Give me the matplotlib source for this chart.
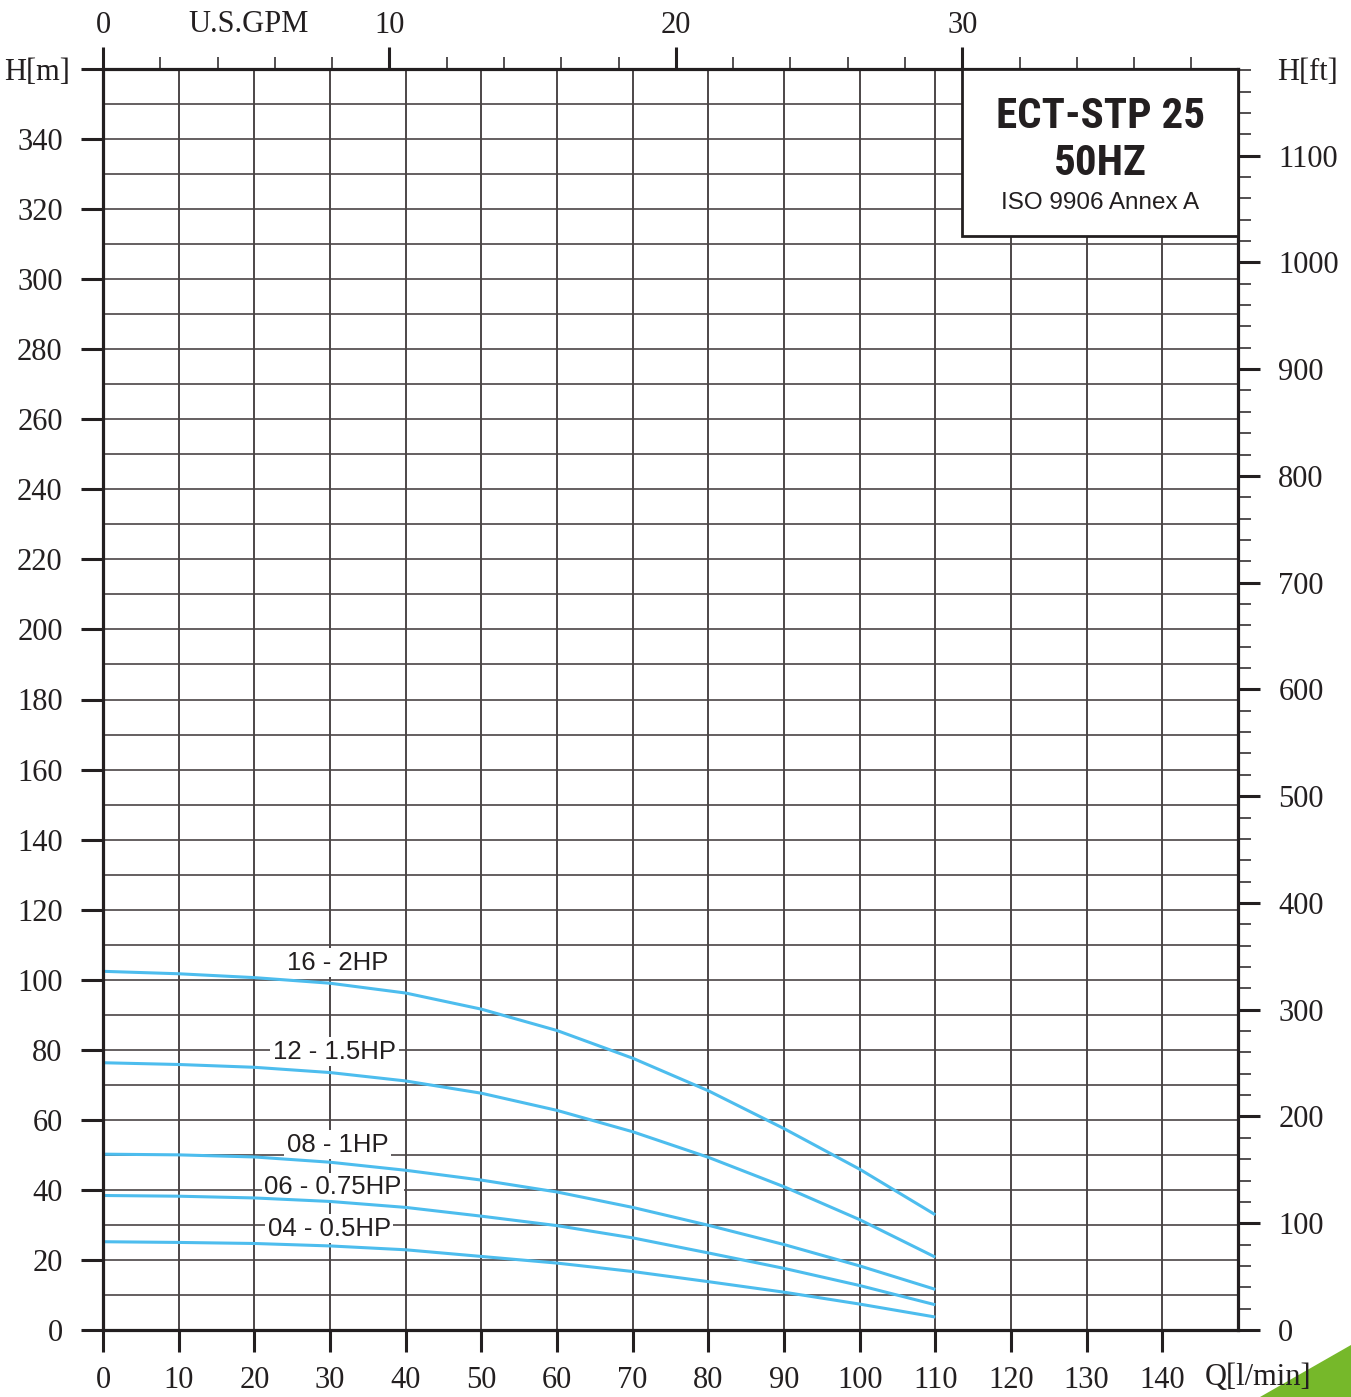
import matplotlib
matplotlib.use("Agg")
import matplotlib.pyplot as plt
from matplotlib.patches import Rectangle, Polygon
import numpy as np

# ---- data ----
flow_lpm = [0, 10, 20, 30, 40, 50, 60, 70, 80, 90, 100, 110]
head_16_2hp = [102.4, 101.7, 100.6, 99.0, 96.2, 91.6, 85.5, 77.6, 68.3, 57.5, 45.9, 32.9]
head_12_15hp = [76.3, 75.8, 75.0, 73.5, 71.1, 67.6, 62.7, 56.6, 49.3, 40.9, 31.5, 20.8]
head_08_1hp = [50.2, 50.0, 49.4, 47.9, 45.6, 42.8, 39.4, 35.0, 29.9, 24.4, 18.3, 11.6]
head_06_075hp = [38.4, 38.2, 37.7, 36.7, 35.0, 32.5, 29.8, 26.3, 22.0, 17.6, 12.7, 7.2]
head_04_05hp = [25.2, 25.0, 24.7, 24.0, 22.9, 21.0, 19.1, 16.7, 13.8, 10.8, 7.4, 3.7]
curve_labels = ["16 - 2HP", "12 - 1.5HP", "08 - 1HP", "06 - 0.75HP", "04 - 0.5HP"]

bottom_ticks = list(range(0, 150, 10))
left_ticks = list(range(0, 361, 20))
right_ticks = list(range(0, 1101, 100))
top_ticks = [0, 10, 20, 30]

title_lines = ["ECT-STP 25", "50HZ"]
subtitle = "ISO 9906 Annex A"

M_TO_FT = 3.28084
GPM_TO_LPM = 3.78541
XMAX, YMAX = 150, 360

W, H = 1351, 1397
fig = plt.figure(figsize=(W / 100, H / 100), dpi=100)
fig.patch.set_facecolor("white")

L, R, B, T = 103, 1238, 1330, 69
ax = fig.add_axes([L / W, (H - B) / H, (R - L) / W, (B - T) / H])
ax.set_xlim(0, XMAX)
ax.set_ylim(0, YMAX)

serif = ["Liberation Serif", "DejaVu Serif"]
sans = ["Liberation Sans", "DejaVu Sans"]
cond = ["Roboto Condensed", "Archivo Narrow", "Asap Condensed", "Liberation Sans", "DejaVu Sans"]
tick_fs = 22
ink = "#231f20"
curve_color = "#4dbdee"

# grid
for xv in range(10, XMAX, 10):
    ax.axvline(xv, color="#2e2829", lw=1.2, zorder=1)
for yv in range(10, YMAX, 10):
    ax.axhline(yv, color="#4a4445", lw=1.2, zorder=1)

# spines
for side in ["left", "right", "top", "bottom"]:
    ax.spines[side].set_linewidth(2.3)
    ax.spines[side].set_color(ink)
    ax.spines[side].set_zorder(6)

# bottom / left ticks
ax.set_xticks(bottom_ticks)
ax.set_xticklabels([str(t) for t in bottom_ticks], fontfamily=serif, fontsize=tick_fs, color=ink)
ax.set_yticks(left_ticks)
ax.set_yticklabels([str(t) if t < 360 else "" for t in left_ticks], fontfamily=serif,
                   fontsize=tick_fs, color=ink)
ax.tick_params(axis="x", direction="out", length=16, width=2.2, pad=10, colors=ink)
ax.tick_params(axis="y", direction="out", length=16, width=2.2, pad=13, colors=ink)
ax.tick_params(top=False, right=False)

# right axis (ft)
axr = ax.twinx()
axr.set_ylim(0, YMAX * M_TO_FT)
axr.set_yticks(right_ticks)
axr.set_yticklabels([str(t) for t in right_ticks], fontfamily=serif, fontsize=tick_fs, color=ink)
axr.set_yticks(np.arange(0, YMAX * M_TO_FT, 20), minor=True)
axr.tick_params(axis="y", which="major", direction="out", length=16, width=2.2, pad=13, colors=ink)
axr.tick_params(axis="y", which="minor", direction="out", length=9, width=1.1, colors=ink)
for s in axr.spines.values():
    s.set_visible(False)

# top axis (GPM)
axt = ax.twiny()
axt.set_xlim(0, XMAX / GPM_TO_LPM)
axt.set_xticks(top_ticks)
axt.set_xticklabels([str(t) for t in top_ticks], fontfamily=serif, fontsize=tick_fs, color=ink)
axt.set_xticks(np.arange(0, XMAX / GPM_TO_LPM, 2), minor=True)
axt.tick_params(axis="x", which="major", direction="out", length=16, width=2.2, pad=5, colors=ink)
axt.tick_params(axis="x", which="minor", direction="out", length=9, width=1.1, colors=ink)
for s in axt.spines.values():
    s.set_visible(False)

# curves
series = [head_16_2hp, head_12_15hp, head_08_1hp, head_06_075hp, head_04_05hp]
for h in series:
    ax.plot(flow_lpm, h, color=curve_color, lw=2.2, zorder=4, solid_capstyle="butt")

# curve labels (white background boxes, under the curves, above the grid)
label_pos = [(31.0, 104.9), (30.6, 79.5), (31.0, 52.9), (30.4, 40.7), (29.9, 28.9)]
for text, (lx, ly) in zip(curve_labels, label_pos):
    ax.text(lx, ly, text, fontfamily=sans, fontsize=18.5, color=ink, ha="center", va="center",
            zorder=3, bbox=dict(boxstyle="square,pad=0.1", fc="white", ec="none"))

# title box
box_x0 = 30 * GPM_TO_LPM
box_y0 = 312.3
ax.add_patch(Rectangle((box_x0, box_y0), XMAX - box_x0, YMAX - box_y0, facecolor="white",
                       edgecolor=ink, lw=2.0, zorder=7, clip_on=False))
cx = (box_x0 + XMAX) / 2
ax.text(cx, 346.3, title_lines[0], fontfamily=cond, fontweight="bold", fontsize=31,
        color=ink, ha="center", va="center", zorder=8)
ax.text(cx, 333.0, title_lines[1], fontfamily=cond, fontweight="bold", fontsize=31,
        color=ink, ha="center", va="center", zorder=8)
ax.text(cx, 321.8, subtitle, fontfamily=sans, fontsize=17.5, color=ink,
        ha="center", va="center", zorder=8)

# axis unit labels
fig.text(37 / W, 1 - 72 / H, "H[m]", fontfamily=serif, fontsize=tick_fs, color=ink,
         ha="center", va="center")
fig.text(1308 / W, 1 - 72 / H, "H[ft]", fontfamily=serif, fontsize=tick_fs, color=ink,
         ha="center", va="center")
fig.text(249 / W, 1 - 25 / H, "U.S.GPM", fontfamily=serif, fontsize=tick_fs, color=ink,
         ha="center", va="center")
fig.text(1258 / W, 1 - 1377 / H, "Q[l/min]", fontfamily=serif, fontsize=tick_fs, color=ink,
         ha="center", va="center", zorder=10)

# green corner decoration
fig.patches.append(Polygon([[1260 / W, 0], [1.0, 52 / H], [1.0, 0]], closed=True,
                           transform=fig.transFigure, facecolor="#76b82a", edgecolor="none",
                           zorder=0))

fig.savefig("out.png", dpi=100, facecolor="white")
